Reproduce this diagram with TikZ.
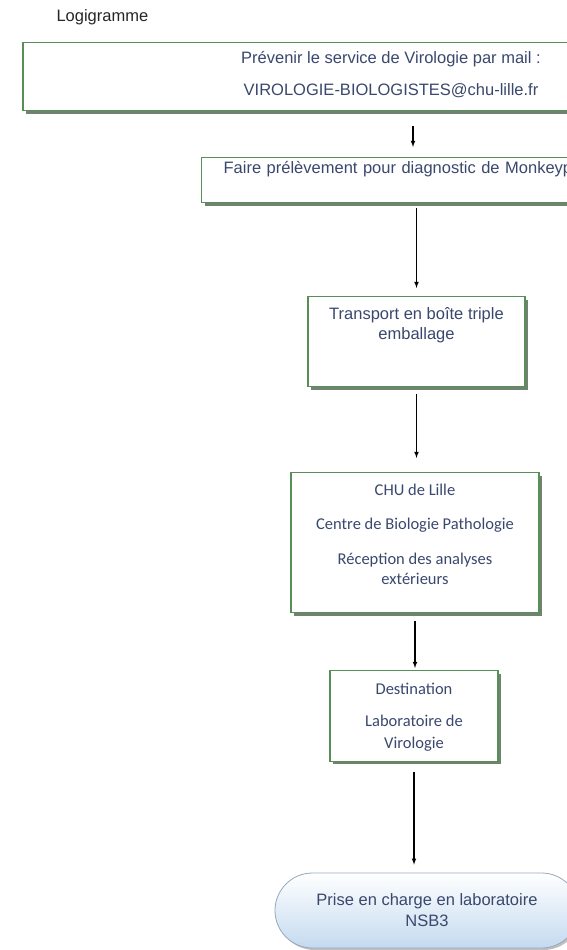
\documentclass[tikz,border=0pt]{standalone}
\usepackage{fontspec}
\setmainfont{Liberation Sans}
\newfontfamily\calibri{Carlito}
\usetikzlibrary{positioning, shapes, shapes.misc, arrows, shadows}
\definecolor{vert}{RGB}{88,142,88}
\definecolor{ombre}{RGB}{112,130,112}
\definecolor{texte}{RGB}{58,72,110}
\definecolor{bleu}{RGB}{196,218,240}
\definecolor{bord}{RGB}{150,168,190}
\tikzset{
  etape/.style={draw=vert, line width=1.3pt, fill=white, text=texte, align=center,
    inner sep=0pt, inner ysep=4pt,
    drop shadow={shadow xshift=3pt, shadow yshift=-3pt, fill=ombre, opacity=1}},
  fin/.style={rounded rectangle, draw=bord, line width=0.8pt, text=texte, align=center,
    top color=white, bottom color=bleu,
    drop shadow={shadow xshift=2pt, shadow yshift=-2pt, fill=black!25, opacity=1}},
  fleche/.style={-latex, line width=1.1pt}}

\begin{document}
\begin{tikzpicture}[x=1pt, y=-1pt, font=\fontsize{16.5}{20}\selectfont]
  \clip (0,0) rectangle (567,950);
  \useasboundingbox (0,0) rectangle (567,950);
    \node[anchor=west, text=black!85] (titre) at (53,17) {Logigramme};
    % etapes
    \node[etape, anchor=north, minimum width=736pt, text height=49pt, text depth=11pt] (prevenir) at (391,42)
        {Prévenir le service de Virologie par mail :\\[12pt]VIROLOGIE-BIOLOGISTES@chu-lille.fr};
    \node[etape, anchor=north west, text width=400pt, align=left, inner xsep=22pt,
          text height=12pt, text depth=25pt] (prelev) at (201,157)
        {Faire prélèvement pour diagnostic de Monkeypox};
    \node[etape, anchor=north, minimum width=217pt, text height=39pt, text depth=43pt] (transport) at (416.5,296)
        {Transport en boîte triple\\emballage};
    \node[etape, anchor=north, minimum width=248pt, text height=107.5pt, text depth=24.5pt,
          font=\calibri\fontsize{16.5}{20}\selectfont] (chu) at (415,472)
        {CHU de Lille\\[14pt]Centre de Biologie Pathologie\\[15pt]Réception des analyses\\extérieurs};
    \node[etape, anchor=north, minimum width=168pt, text height=73.5pt, text depth=9pt,
          font=\calibri\fontsize{16.5}{20}\selectfont] (destination) at (414,670)
        {Destination\\[12pt]Laboratoire de\\[2pt]Virologie};
    \node[fin, minimum width=304pt, minimum height=75pt, inner sep=0pt] (nsb) at (427,910.5)
        {Prise en charge en laboratoire\\[1pt]NSB3};
    % fleches
    \draw[fleche, shorten <=15pt, shorten >=10pt] (prevenir.south -| 413,0) -- (prelev.north -| 413,0);
    \draw[fleche, shorten <=5pt, shorten >=8pt] (prelev.south -| transport) -- (transport.north);
    \draw[fleche, shorten <=7pt, shorten >=14pt] (transport.south) -- (chu.north -| transport);
    \draw[fleche, shorten <=8pt, shorten >=2pt] (chu.south) -- (destination.north -| chu);
    \draw[fleche, shorten <=10pt, shorten >=8pt] (destination.south) -- (nsb.north -| destination);
\end{tikzpicture}
\end{document}
